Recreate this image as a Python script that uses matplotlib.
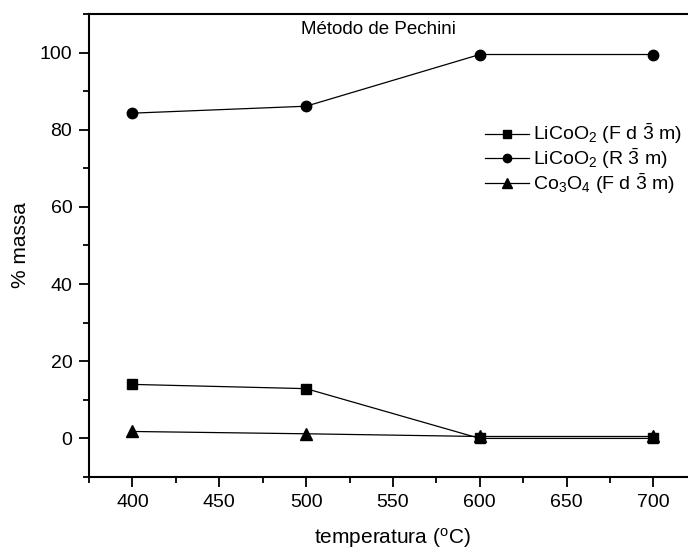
import matplotlib
matplotlib.use("Agg")
import matplotlib.pyplot as plt
from matplotlib.ticker import MultipleLocator

plt.rcParams['font.family'] = ['Liberation Sans', 'DejaVu Sans']
plt.rcParams['mathtext.fontset'] = 'custom'
plt.rcParams['mathtext.rm'] = 'Liberation Sans'
plt.rcParams['mathtext.it'] = 'Liberation Sans'
plt.rcParams['mathtext.bf'] = 'Liberation Sans:bold'

temperatures = [400, 500, 600, 700]
licoo2_fd3m = [14.0, 12.9, 0.0, 0.0]
licoo2_r3m = [84.3, 86.1, 99.5, 99.5]
co3o4_fd3m = [1.8, 1.2, 0.5, 0.5]

labels = [r"LiCoO$_2$ (F d $\bar{3}$ m)",
          r"LiCoO$_2$ (R $\bar{3}$ m)",
          r"Co$_3$O$_4$ (F d $\bar{3}$ m)"]

W, H = 688, 552
fig = plt.figure(figsize=(W / 100, H / 100), dpi=100)
left, bottom, top = 89, 477, 14
xlim = (375, 725)
px_per_unit = (654 - 133) / 300
right = left + (xlim[1] - xlim[0]) * px_per_unit
ax = fig.add_axes([left / W, 1 - bottom / H, (right - left) / W, (bottom - top) / H])

ax.plot(temperatures, licoo2_fd3m, color='black', lw=0.9, marker='s', ms=7.5, label=labels[0])
ax.plot(temperatures, licoo2_r3m, color='black', lw=0.9, marker='o', ms=7.5, label=labels[1])
ax.plot(temperatures, co3o4_fd3m, color='black', lw=0.9, marker='^', ms=8.5, label=labels[2])

ax.set_xlim(*xlim)
ax.set_ylim(-10, 110)
ax.xaxis.set_major_locator(MultipleLocator(50))
ax.xaxis.set_minor_locator(MultipleLocator(25))
ax.yaxis.set_major_locator(MultipleLocator(20))
ax.yaxis.set_minor_locator(MultipleLocator(10))
ax.tick_params(which='major', direction='out', length=7, width=1.3, labelsize=14, pad=5)
ax.tick_params(which='minor', direction='out', length=4, width=1.3)
ax.spines['right'].set_visible(False)
for s in ['left', 'bottom', 'top']:
    ax.spines[s].set_linewidth(1.5)

ax.set_xlabel(r"temperatura ($^{\rm o}$C)", fontsize=15, labelpad=11)
ax.set_ylabel("% massa", fontsize=15, labelpad=7)
# title placed inside the axes, centred at pixel x ~378
ax.text((378 - left) / (right - left), 1 - (30 - top) / (bottom - top),
        "Método de Pechini", fontsize=13.5, ha='center', va='center',
        transform=ax.transAxes)

leg = ax.legend(loc='upper left', bbox_to_anchor=(475 / W, 1 - 112 / H),
                bbox_transform=fig.transFigure, frameon=False, fontsize=14,
                handlelength=2.3, handletextpad=0.2, labelspacing=0.0,
                borderpad=0, markerscale=0.8)

fig.savefig("out.png", dpi=100)
